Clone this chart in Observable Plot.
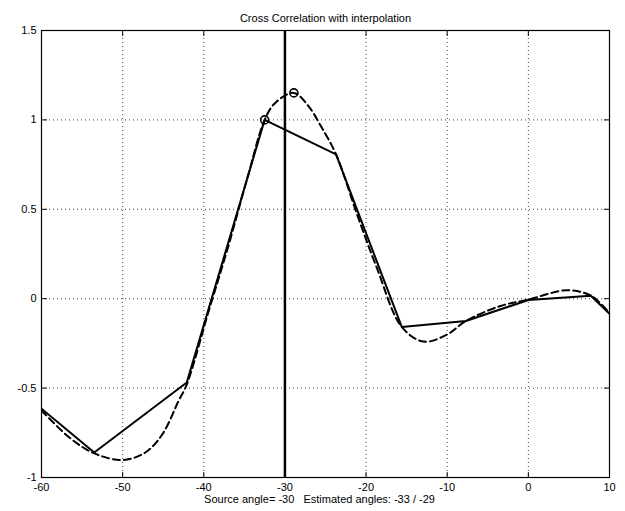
<!DOCTYPE html>
<html>
<head>
<meta charset="utf-8">
<script src="https://cdn.jsdelivr.net/npm/d3@7"></script>
<script src="https://cdn.jsdelivr.net/npm/@observablehq/plot@0.6"></script>
<style>
  html, body { margin: 0; padding: 0; background: #fff; }
  #chart svg { display: block; }
</style>
</head>
<body>
<div id="chart"></div>
<script>
const titleText = "Cross Correlation with interpolation";
const captionText = "Source angle= -30\u00a0\u00a0 Estimated angles: -33 / -29";

const xTicks = [-60, -50, -40, -30, -20, -10, 0, 10];
const yTicks = [-1, -0.5, 0, 0.5, 1, 1.5];
const xGrid = [-50, -40, -30, -20, -10, 0];
const yGrid = [-0.5, 0, 0.5, 1];

// sampled cross correlation (solid)
const sampleAngles = [-60, -53.5, -42.1, -32.5, -23.7, -15.6, -7.7, 0, 7.7, 10];
const sampleValues = [-0.615, -0.86, -0.469, 1.0, 0.807, -0.158, -0.125, -0.007, 0.017, -0.084];

// interpolated cross correlation (dashed)
const interpAngles = [-60, -56.6, -53.5, -50, -47.2, -45.1, -43.1, -42.1, -39.4, -37, -34.6, -32.5, -31.2, -28.9, -27.1, -25.5, -23.7, -21.1, -18.65, -15.6, -12.9, -10, -7.7, -3.45, 0, 4.74, 7.7, 10];
const interpValues = [-0.625, -0.775, -0.865, -0.902, -0.86, -0.758, -0.571, -0.48, -0.07, 0.29, 0.68, 1.0, 1.095, 1.151, 1.077, 0.96, 0.807, 0.47, 0.17, -0.158, -0.24, -0.2, -0.125, -0.041, -0.005, 0.047, 0.017, -0.08];

// estimated peaks (circles)
const peakAngles = [-32.5, -28.9];
const peakValues = [1.0, 1.151];

// true source angle (vertical line)
const sourceAngles = [-30];

const sampleData = sampleAngles.map((a, i) => ({a, v: sampleValues[i]}));
const interpData = interpAngles.map((a, i) => ({a, v: interpValues[i]}));
const peakData = peakAngles.map((a, i) => ({a, v: peakValues[i]}));

const tickShape = {draw(ctx, l) { ctx.moveTo(0, 0); ctx.lineTo(0, -l); }};
const fmt = d => String(d);

const chart = Plot.plot({
  width: 625,
  height: 511,
  marginLeft: 41,
  marginRight: 16,
  marginTop: 30,
  marginBottom: 34,
  style: {fontFamily: "'Liberation Sans', Arial, Helvetica, sans-serif", fontSize: "11px", color: "black", background: "white"},
  x: {domain: [-60, 10]},
  y: {domain: [-1, 1.5]},
  marks: [
    Plot.gridX(xGrid, {stroke: "black", strokeOpacity: 0.75, strokeDasharray: "1,3"}),
    Plot.gridY(yGrid, {stroke: "black", strokeOpacity: 0.75, strokeDasharray: "1,3"}),
    Plot.vector(xTicks, {x: d => d, frameAnchor: "bottom", length: 5, rotate: 0, anchor: "start", shape: tickShape, stroke: "black", strokeWidth: 1}),
    Plot.vector(xTicks, {x: d => d, frameAnchor: "top", length: 5, rotate: 180, anchor: "start", shape: tickShape, stroke: "black", strokeWidth: 1}),
    Plot.vector(yTicks, {y: d => d, frameAnchor: "left", length: 5, rotate: 90, anchor: "start", shape: tickShape, stroke: "black", strokeWidth: 1}),
    Plot.vector(yTicks, {y: d => d, frameAnchor: "right", length: 5, rotate: -90, anchor: "start", shape: tickShape, stroke: "black", strokeWidth: 1}),
    Plot.axisX(xTicks, {tickSize: 0, tickPadding: 6, label: null, tickFormat: fmt, fill: "black"}),
    Plot.axisY(yTicks, {tickSize: 0, tickPadding: 5, label: null, tickFormat: fmt, fill: "black"}),
    Plot.line(interpData, {x: "a", y: "v", curve: "catmull-rom", stroke: "black", strokeWidth: 2, strokeDasharray: "7,4", clip: true}),
    Plot.line(sampleData, {x: "a", y: "v", stroke: "black", strokeWidth: 2, clip: true}),
    Plot.ruleX(sourceAngles, {stroke: "black", strokeWidth: 2.5}),
    Plot.dot(peakData, {x: "a", y: "v", r: 4, stroke: "black", strokeWidth: 1.6, fill: "none"}),
    Plot.frame({stroke: "black", strokeWidth: 1.2}),
    Plot.text([titleText], {frameAnchor: "top", dy: -16, fontSize: 11, fill: "black"}),
    Plot.text([captionText], {frameAnchor: "bottom", dy: 25, dx: -6, fontSize: 11, fill: "black"})
  ]
});
document.getElementById("chart").appendChild(chart);
</script>
</body>
</html>
